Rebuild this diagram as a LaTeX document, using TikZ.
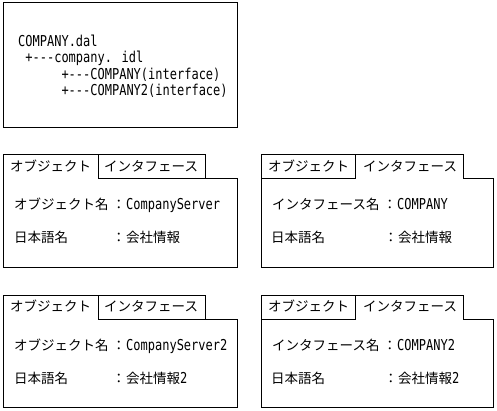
\documentclass[tikz,border=0pt]{standalone}
\usepackage{fontspec}
\newfontfamily\cjk{Noto Sans CJK JP}
\newfontfamily\lat[FakeStretch=0.8]{DejaVu Sans Mono}
\newcommand\ltt{\lat\fontsize{15}{16}\selectfont}
\tikzset{
  frame/.style={draw=black, line width=1pt, line join=miter},
  jp/.style={anchor=base west, inner sep=0pt, font=\cjk\fontsize{13.5}{14}\selectfont},
  lt/.style={anchor=base west, inner sep=0pt, font=\ltt},
}
\begin{document}
\begin{tikzpicture}[x=1pt,y=-1pt]
\useasboundingbox (0,0) rectangle (497,411);
% top file tree box
\draw[frame] (3,3) rectangle (237,128);
\node[lt] (t1) at (18,46.5) {COMPANY.dal};
\node[lt] (t2) at (25.2,62.8) {+---company. idl};
\node[lt] (t3) at (61.3,79.1) {+---COMPANY(interface)};
\node[lt] (t4) at (61.3,95.4) {+---COMPANY2(interface)};

% ---------- left boxes (object tab active) ----------
\foreach \dy/\nm/\val/\jn in {0/a/CompanyServer/{会社情報}, 140/b/CompanyServer2/{会社情報{\ltt 2}}}{
  \draw[frame] (205,179+\dy) -- (205,155+\dy) -- (3,155+\dy) -- (3,267+\dy) -- (237,267+\dy) -- (237,179+\dy) -- (98,179+\dy) -- (98,155+\dy);
  \node[jp] (\nm tabo) at (10,171.5+\dy) {オブジェクト};
  \node[jp] (\nm tabi) at (104,171.5+\dy) {インタフェース};
  \node[jp] (\nm k1) at (14,210+\dy) {オブジェクト名};
  \node[jp] (\nm c1) at (112,210+\dy) {：};
  \node[lt] (\nm v1) at (126,210+\dy) {\val};
  \node[jp] (\nm k2) at (14,243+\dy) {日本語名};
  \node[jp] (\nm c2) at (112,243+\dy) {：};
  \node[jp] (\nm v2) at (126,243+\dy) {\jn};
}

% ---------- right boxes (interface tab active) ----------
\foreach \dy/\nm/\val/\jn in {0/c/COMPANY/{会社情報}, 140/d/COMPANY2/{会社情報{\ltt 2}}}{
  \draw[frame] (261,155+\dy) -- (463,155+\dy) -- (463,179+\dy) -- (493,179+\dy) -- (493,267+\dy) -- (261,267+\dy) -- cycle;
  \draw[frame] (261,179+\dy) -- (355,179+\dy) -- (355,155+\dy);
  \node[jp] (\nm tabo) at (268,171.5+\dy) {オブジェクト};
  \node[jp] (\nm tabi) at (363,171.5+\dy) {インタフェース};
  \node[jp] (\nm k1) at (272,210+\dy) {インタフェース名};
  \node[jp] (\nm c1) at (383,210+\dy) {：};
  \node[lt] (\nm v1) at (397,210+\dy) {\val};
  \node[jp] (\nm k2) at (271,243+\dy) {日本語名};
  \node[jp] (\nm c2) at (384,243+\dy) {：};
  \node[jp] (\nm v2) at (398,243+\dy) {\jn};
}
\end{tikzpicture}
\end{document}
